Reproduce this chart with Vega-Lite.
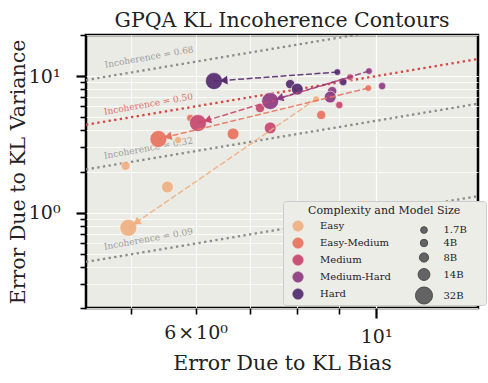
{
  "$schema": "https://vega.github.io/schema/vega-lite/v6.json",
  "width": 392,
  "height": 273,
  "autosize": {"type": "none"},
  "padding": {"left": 86, "top": 35, "right": 10, "bottom": 75},
  "background": "white",
  "title": {"text": "GPQA KL Incoherence Contours", "font": "DejaVu Serif", "fontSize": 20.5, "fontWeight": "normal", "color": "#222222", "offset": -5, "anchor": "middle"},
  "config": {
    "view": {"fill": "#EBEBE5", "stroke": "#000000", "strokeWidth": 2.5},
    "font": "DejaVu Serif",
    "axis": {
      "grid": true,
      "gridColor": "#FFFFFF",
      "gridOpacity": 1,
      "domain": false,
      "tickColor": "#000000",
      "labelFont": "DejaVu Serif",
      "labelFontSize": 19,
      "labelColor": "#222222",
      "titleFont": "DejaVu Serif",
      "titleFontSize": 20.5,
      "titleFontWeight": "normal",
      "titleColor": "#222222",
      "labelOverlap": false,
      "labelBound": false,
      "labelFlush": false
    },
    "legend": {
      "labelFont": "DejaVu Serif",
      "titleFont": "DejaVu Serif",
      "labelColor": "#222222",
      "titleColor": "#222222"
    }
  },
  "datasets": {
    "points": [
      {"complexity": "Easy", "model": "1.7B", "bias": 8.44, "variance": 6.79},
      {"complexity": "Easy", "model": "4B", "bias": 5.71, "variance": 3.40},
      {"complexity": "Easy", "model": "8B", "bias": 4.92, "variance": 2.20},
      {"complexity": "Easy", "model": "14B", "bias": 5.54, "variance": 1.54},
      {"complexity": "Easy", "model": "32B", "bias": 4.96, "variance": 0.773},
      {"complexity": "Easy-Medium", "model": "1.7B", "bias": 9.78, "variance": 8.17},
      {"complexity": "Easy-Medium", "model": "4B", "bias": 5.91, "variance": 4.93},
      {"complexity": "Easy-Medium", "model": "8B", "bias": 8.56, "variance": 5.19},
      {"complexity": "Easy-Medium", "model": "14B", "bias": 6.67, "variance": 3.77},
      {"complexity": "Easy-Medium", "model": "32B", "bias": 5.40, "variance": 3.46},
      {"complexity": "Medium", "model": "1.7B", "bias": 9.29, "variance": 9.83},
      {"complexity": "Medium", "model": "4B", "bias": 9.01, "variance": 6.14},
      {"complexity": "Medium", "model": "8B", "bias": 7.20, "variance": 5.83},
      {"complexity": "Medium", "model": "14B", "bias": 7.41, "variance": 4.17},
      {"complexity": "Medium", "model": "32B", "bias": 6.04, "variance": 4.53},
      {"complexity": "Medium-Hard", "model": "1.7B", "bias": 9.80, "variance": 10.88},
      {"complexity": "Medium-Hard", "model": "4B", "bias": 10.17, "variance": 8.45},
      {"complexity": "Medium-Hard", "model": "8B", "bias": 8.83, "variance": 7.77},
      {"complexity": "Medium-Hard", "model": "14B", "bias": 8.78, "variance": 7.02},
      {"complexity": "Medium-Hard", "model": "32B", "bias": 7.41, "variance": 6.56},
      {"complexity": "Hard", "model": "1.7B", "bias": 8.96, "variance": 10.70},
      {"complexity": "Hard", "model": "4B", "bias": 9.11, "variance": 9.04},
      {"complexity": "Hard", "model": "8B", "bias": 7.84, "variance": 8.74},
      {"complexity": "Hard", "model": "14B", "bias": 8.00, "variance": 8.03},
      {"complexity": "Hard", "model": "32B", "bias": 6.32, "variance": 9.19}
    ],
    "arrows": [
      {"complexity": "Easy", "b0": 8.44, "v0": 6.79, "b1": 4.96, "v1": 0.773},
      {"complexity": "Easy-Medium", "b0": 9.78, "v0": 8.17, "b1": 5.40, "v1": 3.46},
      {"complexity": "Medium", "b0": 9.29, "v0": 9.83, "b1": 6.04, "v1": 4.53},
      {"complexity": "Medium-Hard", "b0": 9.80, "v0": 10.88, "b1": 7.41, "v1": 6.56},
      {"complexity": "Hard", "b0": 8.96, "v0": 10.70, "b1": 6.32, "v1": 9.19}
    ],
    "contours": [
      {"c": "0.68", "bias": 4.0, "variance": 8.5},
      {"c": "0.68", "bias": 14.0, "variance": 29.75},
      {"c": "0.50", "bias": 4.0, "variance": 4.0},
      {"c": "0.50", "bias": 14.0, "variance": 14.0},
      {"c": "0.32", "bias": 4.0, "variance": 1.882},
      {"c": "0.32", "bias": 14.0, "variance": 6.588},
      {"c": "0.09", "bias": 4.0, "variance": 0.3956},
      {"c": "0.09", "bias": 14.0, "variance": 1.3846}
    ],
    "contourLabels": [
      {"c": "0.68", "text": "Incoherence = 0.68", "bias": 5.26, "variance": 13.8},
      {"c": "0.50", "text": "Incoherence = 0.50", "bias": 5.25, "variance": 6.24},
      {"c": "0.32", "text": "Incoherence = 0.32", "bias": 5.25, "variance": 2.97},
      {"c": "0.09", "text": "Incoherence = 0.09", "bias": 5.25, "variance": 0.642}
    ]
  },
  "encoding": {
    "x": {
      "field": "bias", "type": "quantitative",
      "scale": {"type": "log", "domain": [4.4, 13.34], "nice": false, "zero": false},
      "axis": {
        "title": "Error Due to KL Bias",
        "values": [5, 6, 7, 8, 9, 10],
        "labelExpr": "datum.value == 6 ? '6\u200a×\u200a10⁰' : datum.value == 10 ? '10¹' : ''",
        "tickSize": {"condition": {"test": "datum.value == 10", "value": 10}, "value": 6},
        "tickWidth": {"condition": {"test": "datum.value == 10", "value": 2.2}, "value": 1.6},
        "gridWidth": {"condition": {"test": "datum.value == 10", "value": 1.2}, "value": 0.8},
        "labelPadding": 9,
        "titlePadding": 7
      }
    },
    "y": {
      "field": "variance", "type": "quantitative",
      "scale": {"type": "log", "domain": [0.2, 20], "nice": false, "zero": false},
      "axis": {
        "title": "Error Due to KL Variance",
        "values": [0.2, 0.3, 0.4, 0.5, 0.6, 0.7, 0.8, 0.9, 1, 2, 3, 4, 5, 6, 7, 8, 9, 10, 20],
        "labelExpr": "datum.value == 1 ? '10⁰' : datum.value == 10 ? '10¹' : ''",
        "tickSize": {"condition": {"test": "datum.value == 1 || datum.value == 10", "value": 10}, "value": 6},
        "tickWidth": {"condition": {"test": "datum.value == 1 || datum.value == 10", "value": 2.2}, "value": 1.6},
        "gridWidth": {"condition": {"test": "datum.value == 1 || datum.value == 10", "value": 1.2}, "value": 0.8},
        "labelPadding": 16,
        "titlePadding": 0
      }
    }
  },
  "layer": [
    {
      "data": {"name": "contours"},
      "mark": {"type": "line", "clip": true, "strokeWidth": 2.3, "strokeDash": [2.3, 3.4]},
      "encoding": {
        "detail": {"field": "c", "type": "nominal"},
        "color": {"condition": {"test": "datum.c == '0.50'", "value": "#D64541"}, "value": "#8A8A8A"}
      }
    },
    {
      "data": {"name": "contourLabels"},
      "mark": {"type": "text", "angle": -10, "fontSize": 9, "font": "DejaVu Serif", "align": "center", "baseline": "middle"},
      "encoding": {
        "text": {"field": "text"},
        "color": {"condition": {"test": "datum.c == '0.50'", "value": "#DA706A"}, "value": "#9C9C9C"}
      }
    },
    {
      "data": {"name": "points"},
      "mark": {"type": "point", "filled": true, "opacity": 0.92, "stroke": "#FFFFFF", "strokeWidth": 0.6},
      "encoding": {
        "color": {
          "field": "complexity", "type": "nominal",
          "scale": {"domain": ["Easy", "Easy-Medium", "Medium", "Medium-Hard", "Hard"], "range": ["#F0B082", "#E8735F", "#C8486E", "#8E3C82", "#552A6E"]},
          "legend": {
            "title": "\u200b\u00a0\u00a0\u00a0\u00a0\u00a0\u00a0Complexity and Model Size\u00a0\u00a0\u00a0\u00a0\u00a0\u00a0\u200b",
            "orient": "none", "legendX": 197, "legendY": 166,
            "padding": 4, "fillColor": "#EDEDE8", "strokeColor": "#CCCCCC", "cornerRadius": 3,
            "titleFontSize": 11, "titleFontWeight": "normal", "titleAnchor": "start", "titlePadding": 4, "titleLimit": 400,
            "labelFontSize": 10, "labelLimit": 400, "labelAlign": "left",
            "symbolType": "circle", "symbolSize": 113, "symbolOpacity": 0.92,
            "symbolStrokeColor": "#FFFFFF", "symbolStrokeWidth": 0.5,
            "symbolOffset": 5, "labelOffset": 16, "rowPadding": 3
          }
        },
        "size": {
          "field": "model", "type": "ordinal",
          "scale": {"type": "ordinal", "domain": ["1.7B", "4B", "8B", "14B", "32B"], "range": [45, 55, 85, 140, 290]},
          "legend": {
            "title": null,
            "orient": "none", "legendX": 328.5, "legendY": 190,
            "padding": 0, "labelFontSize": 10, "labelOffset": 10, "rowPadding": 1,
            "symbolType": "circle", "symbolFillColor": "#555555", "symbolStrokeColor": "#3A3A3A", "symbolStrokeWidth": 1, "symbolOpacity": 0.9
          }
        }
      }
    },
    {
      "data": {"name": "arrows"},
      "mark": {"type": "rule", "strokeWidth": 1.5, "strokeDash": [6, 2.5], "opacity": 0.9},
      "encoding": {
        "x": {"field": "b0", "type": "quantitative"},
        "y": {"field": "v0", "type": "quantitative"},
        "x2": {"field": "b1"},
        "y2": {"field": "v1"},
        "color": {"field": "complexity", "type": "nominal", "legend": null}
      }
    },
    {
      "data": {"name": "arrows"},
      "transform": [
        {"calculate": "353.4*log(datum.b1/datum.b0)", "as": "dx"},
        {"calculate": "-136.5*log(datum.v1/datum.v0)/LN10", "as": "dy"},
        {"calculate": "sqrt(datum.dx*datum.dx+datum.dy*datum.dy)", "as": "len"},
        {"calculate": "atan2(datum.dx, -datum.dy)*180/PI", "as": "ang"},
        {"calculate": "datum.b1*exp(-11*datum.dx/datum.len/353.4)", "as": "hb"},
        {"calculate": "datum.v1*pow(10, 11*datum.dy/datum.len/136.5)", "as": "hv"}
      ],
      "mark": {"type": "point", "shape": "triangle", "filled": true, "size": 75, "opacity": 1},
      "encoding": {
        "x": {"field": "hb", "type": "quantitative"},
        "y": {"field": "hv", "type": "quantitative"},
        "angle": {"field": "ang", "type": "quantitative", "scale": null},
        "color": {"field": "complexity", "type": "nominal", "legend": null}
      }
    }
  ]
}
